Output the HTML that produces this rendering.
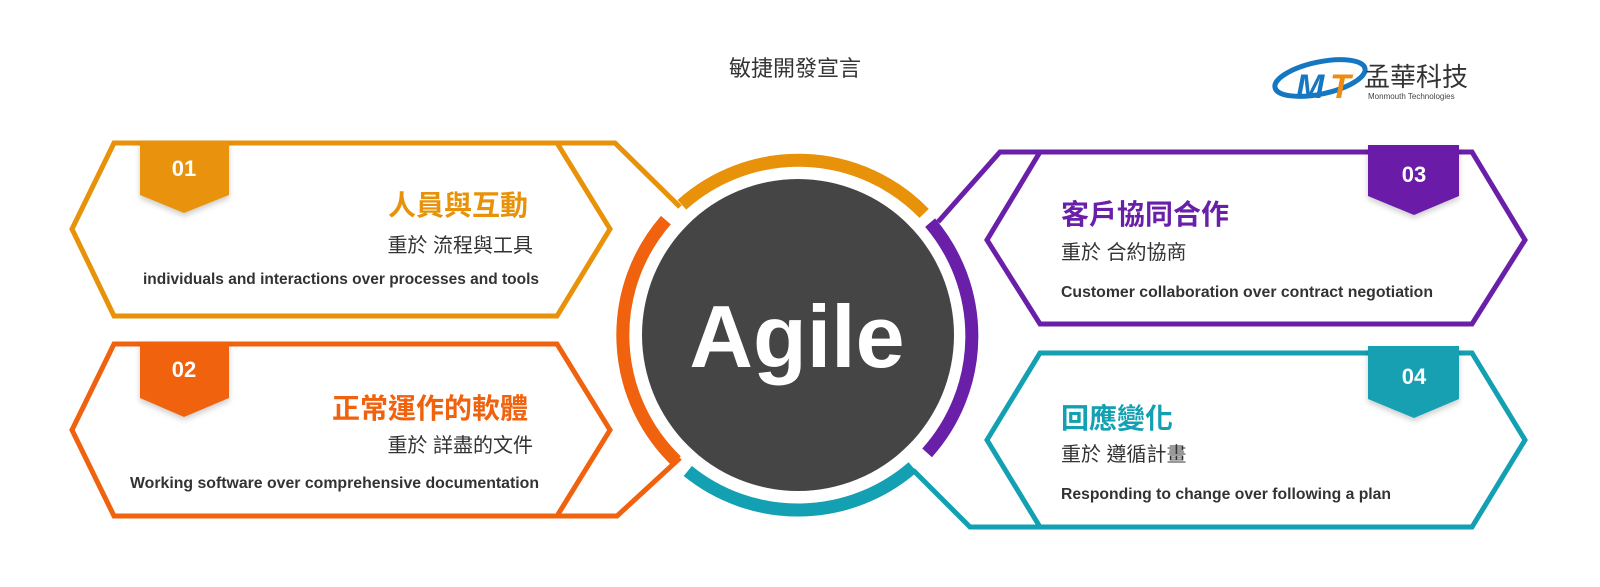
<!DOCTYPE html>
<html><head><meta charset="utf-8"><style>
html,body{margin:0;padding:0;background:#fff;}
svg{display:block;}
text{font-family:"Liberation Sans","Noto Sans CJK TC",sans-serif;}
</style></head><body>
<svg width="1600" height="587" viewBox="0 0 1600 587" xmlns="http://www.w3.org/2000/svg">
<defs>
<filter id="sh" x="-20%" y="-20%" width="140%" height="150%"><feDropShadow dx="0" dy="3" stdDeviation="3" flood-color="#000" flood-opacity="0.2"/></filter>
</defs>
<text x="795" y="76" text-anchor="middle" font-size="22" fill="#333">敏捷開發宣言</text>

<!-- logo -->
<g>
<ellipse cx="1320" cy="78" rx="46" ry="16" fill="none" stroke="#1577c2" stroke-width="5" transform="rotate(-12 1320 78)"/>
<text x="1296" y="98" font-size="34" font-weight="bold" font-style="italic" fill="#1577c2">M</text>
<text x="1330" y="98" font-size="34" font-weight="bold" font-style="italic" fill="#f08a10">T</text>
<text x="1364" y="86" font-size="26" fill="#333">孟華科技</text>
<text x="1368" y="99" font-size="8" fill="#444">Monmouth Technologies</text>
</g>

<!-- circle -->
<circle cx="798" cy="335" r="156" fill="#454545"/>
<g fill="none" stroke-width="13">
<path d="M681.9,204.8 A175,175 0 0 1 924.1,213.4" stroke="#E8920A"/>
<path d="M930.1,222.6 A175,175 0 0 1 927.1,452.9" stroke="#6A1FA8"/>
<path d="M912.8,467.1 A175,175 0 0 1 687.8,471.0" stroke="#12A0B2"/>
<path d="M676.2,460.9 A175,175 0 0 1 665.9,220.1" stroke="#F0620E"/>
</g>
<text x="797" y="367" text-anchor="middle" font-size="88" font-weight="bold" fill="#fff">Agile</text>

<!-- box 1 -->
<g fill="none" stroke="#E8920A" stroke-width="5" stroke-linejoin="miter">
<polygon points="114,143 557,143 610,229 557,316 114,316 72,229"/>
<polyline points="557,143 615,143 680,207"/>
</g>
<g filter="url(#sh)"><polygon points="140,141 229,141 229,195 184,213 140,195" fill="#E8920A"/></g>
<text x="184" y="176" text-anchor="middle" font-size="22" font-weight="bold" fill="#fff">01</text>
<text x="528" y="215" text-anchor="end" font-size="28" font-weight="bold" fill="#E8920A">人員與互動</text>
<text x="533" y="252" text-anchor="end" font-size="20" fill="#333">重於 流程與工具</text>
<text x="143" y="284" font-size="15.5" font-weight="bold" fill="#333" textLength="396" lengthAdjust="spacingAndGlyphs">individuals and interactions over processes and tools</text>

<!-- box 2 -->
<g fill="none" stroke="#F0620E" stroke-width="5">
<polygon points="114,344 557,344 610,430 557,516 114,516 72,430"/>
<polyline points="557,516 617,516 680,458"/>
</g>
<g filter="url(#sh)"><polygon points="140,342 229,342 229,398 184,417 140,398" fill="#F0620E"/></g>
<text x="184" y="377" text-anchor="middle" font-size="22" font-weight="bold" fill="#fff">02</text>
<text x="528" y="418" text-anchor="end" font-size="28" font-weight="bold" fill="#F0620E">正常運作的軟體</text>
<text x="533" y="452" text-anchor="end" font-size="20" fill="#333">重於 詳盡的文件</text>
<text x="130" y="488" font-size="15.5" font-weight="bold" fill="#333" textLength="409" lengthAdjust="spacingAndGlyphs">Working software over comprehensive documentation</text>

<!-- box 3 -->
<g fill="none" stroke="#6A1FA8" stroke-width="5">
<polygon points="1040,152 1472,152 1525,240 1472,324 1040,324 987,240"/>
<polyline points="1040,152 1000,152 938,222"/>
</g>
<g filter="url(#sh)"><polygon points="1368,145 1459,145 1459,196 1414,215 1368,196" fill="#6A1FA8"/></g>
<text x="1414" y="182" text-anchor="middle" font-size="22" font-weight="bold" fill="#fff">03</text>
<text x="1061" y="224" font-size="28" font-weight="bold" fill="#6A1FA8">客戶協同合作</text>
<text x="1061" y="259" font-size="20" fill="#333">重於 合約協商</text>
<text x="1061" y="297" font-size="15.5" font-weight="bold" fill="#333" textLength="372" lengthAdjust="spacingAndGlyphs">Customer collaboration over contract negotiation</text>

<!-- box 4 -->
<g fill="none" stroke="#12A0B2" stroke-width="5">
<polygon points="1040,353 1472,353 1525,440 1472,527 1040,527 987,440"/>
<polyline points="1040,527 970,527 913,470"/>
</g>
<g filter="url(#sh)"><polygon points="1368,346 1459,346 1459,399 1414,418 1368,399" fill="#12A0B2"/></g>
<text x="1414" y="384" text-anchor="middle" font-size="22" font-weight="bold" fill="#fff">04</text>
<text x="1061" y="428" font-size="28" font-weight="bold" fill="#12A0B2">回應變化</text>
<text x="1061" y="461" font-size="20" fill="#333">重於 遵循計畫</text>
<text x="1061" y="499" font-size="15.5" font-weight="bold" fill="#333" textLength="330" lengthAdjust="spacingAndGlyphs">Responding to change over following a plan</text>
</svg>
</body></html>
